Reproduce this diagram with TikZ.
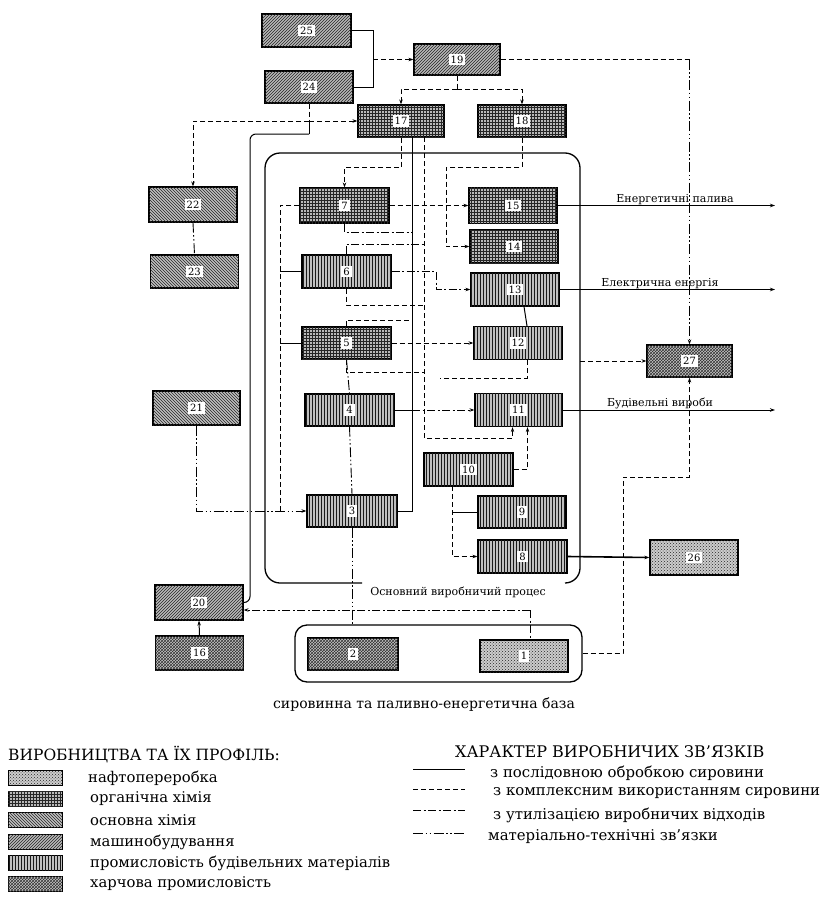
\documentclass[tikz,border=0pt]{standalone}
\usepackage{fontspec}
\setmainfont{DejaVu Serif}
\usetikzlibrary{patterns,arrows.meta,calc}
\begin{document}
\begin{tikzpicture}[x=1pt,y=-1pt,
  box/.style={draw=black, line width=1.2pt, minimum width=88pt, minimum height=33pt, inner sep=0pt},
  me/.style={box, fill=gray!55, postaction={pattern=north east lines, pattern color=black!85}},
  bch/.style={box, fill=gray!50, postaction={pattern=north west lines, pattern color=black!85}},
  org/.style={box, fill=gray!55, postaction={pattern=grid, pattern color=black!85}},
  bld/.style={box, fill=gray!50, postaction={pattern=vertical lines, pattern color=black!90}},
  oil/.style={box, fill=gray!40, postaction={pattern=crosshatch dots, pattern color=black!85}},
  food/.style={box, fill=gray!45, postaction={pattern=crosshatch, pattern color=black!80}},
  num/.style={fill=white, inner sep=2pt, font=\fontsize{10}{10}\selectfont},
  sw/.style={minimum width=54pt, minimum height=15pt, line width=0.9pt},
  seq/.style={line width=1pt},
  cplx/.style={line width=0.9pt, dash pattern=on 5pt off 3pt},
  util/.style={line width=0.9pt, dash pattern=on 8pt off 2.5pt on 2pt off 2.5pt},
  mat/.style={line width=0.9pt, dash pattern=on 10pt off 2.5pt on 1.5pt off 2.5pt on 1.5pt off 2.5pt},
  arr/.style={-{Stealth[length=5pt,width=3.5pt]}},
  lbl/.style={font=\fontsize{11}{13}\selectfont, inner sep=1pt},
  leg/.style={anchor=west, font=\fontsize{14.8}{16}\selectfont, inner sep=0pt},
  legr/.style={anchor=west, font=\fontsize{14.9}{16}\selectfont, inner sep=0pt},
]
\fill[white] (0,0) rectangle (826,902);
\useasboundingbox (0,0) rectangle (826,902);

% ---------- nodes ----------
\node[me, minimum width=89pt, label={[num]center:25}] (n25) at (306.5,30.5) {};
\node[me, minimum height=32pt, label={[num]center:24}] (n24) at (309,87) {};
\node[me, minimum width=86pt, minimum height=31pt, label={[num]center:19}] (n19) at (457,59.5) {};
\node[org, minimum width=86pt, minimum height=32pt, label={[num]center:17}] (n17) at (401,121) {};
\node[org, minimum height=32pt, label={[num]center:18}] (n18) at (522,121) {};
\node[bch, minimum height=35pt, label={[num]center:22}] (n22) at (193,204.5) {};
\node[bch, label={[num]center:23}] (n23) at (194.5,271.5) {};
\node[bch, minimum width=87pt, minimum height=34pt, label={[num]center:21}] (n21) at (196.5,408) {};
\node[me, minimum height=35pt, label={[num]center:20}] (n20) at (199,602.5) {};
\node[food, minimum height=34pt, label={[num]center:16}] (n16) at (199.5,653) {};
\node[org, minimum width=89pt, minimum height=35pt, label={[num]center:7}] (n7) at (344.5,205.5) {};
\node[bld, minimum width=89pt, label={[num]center:6}] (n6) at (346.5,271.5) {};
\node[org, minimum width=89pt, minimum height=32pt, label={[num]center:5}] (n5) at (346.5,343) {};
\node[bld, minimum width=89pt, minimum height=32pt, label={[num]center:4}] (n4) at (349.5,410) {};
\node[bld, minimum width=90pt, minimum height=32pt, label={[num]center:3}] (n3) at (352,511) {};
\node[org, minimum height=36pt, label={[num]center:15}] (n15) at (513,205.5) {};
\node[org, label={[num]center:14}] (n14) at (514,246.5) {};
\node[bld, label={[num]center:13}] (n13) at (515,289.5) {};
\node[bld, label={[num]center:12}] (n12) at (518,343) {};
\node[bld, minimum width=87pt, label={[num]center:11}] (n11) at (518.5,410) {};
\node[bld, minimum width=89pt, label={[num]center:10}] (n10) at (468.5,469.5) {};
\node[bld, minimum height=32pt, label={[num]center:9}] (n9) at (522,512) {};
\node[bld, minimum width=89pt, label={[num]center:8}] (n8) at (522.5,556.5) {};
\node[food, minimum width=85pt, minimum height=32pt, label={[num]center:27}] (n27) at (689.5,361) {};
\node[oil, minimum height=35pt, label={[num]center:26}] (n26) at (694,557.5) {};
\node[draw, line width=1.3pt, rounded corners=12pt, minimum width=287pt, minimum height=57pt] (nb) at (438.5,653.5) {};
\node[food, minimum width=90pt, minimum height=32pt, label={[num]center:2}] (n2) at (353,654) {};
\node[oil, minimum height=32pt, label={[num]center:1}] (n1) at (524,656) {};

% main production box (open at the bottom for its caption)
\draw[line width=1.3pt, rounded corners=15pt] (362,583) -- (265,583) -- (265,153) -- (580,153) -- (580,583) -- (565,583);
\node[lbl] (tmain) at (458,592) {Основний виробничий процес};
\node[font=\fontsize{14}{16}\selectfont] (tbase) at (424,705) {сировинна та паливно-енергетична база};

% ---------- connectors: top ----------
\coordinate (j1) at (373,59.5);
\draw[seq] (n25.east) -| (j1);
\draw[seq] (n24.east) -| (j1);
\draw[cplx,arr] (j1) -- (n19.west);
\coordinate (k19) at (689.5,59.5);
\draw[cplx] (n19.east) -- (k19);
\draw[mat,arr] (k19) -- (n27.north);
\coordinate (j19) at (457,89);
\draw[cplx] (n19.south) -- (j19);
\draw[cplx,arr] (j19) -| (n17.north);
\draw[cplx,arr] (j19) -| (n18.north);
\coordinate (j24) at (309,121);
\draw[cplx] (n24.south) -- (j24);
\draw[cplx,arr] (j24) -- (n17.west);
\draw[cplx,arr] (j24) -| (n22.north);
\coordinate (j24b) at (309,134);
\draw[seq] (j24) -- (j24b);
\draw[seq, rounded corners=6pt] (j24b) -- (250,134) |- (n20.east);

% ---------- left side ----------
\draw[mat] (n22.south) -- (n23.north);
\draw[mat,arr] (n21.south) |- (n3.west);
\coordinate (lbt) at (280,205.5);
\coordinate (lbb) at (280,511);
\draw[cplx] (n7.west) -- (lbt) -- (lbb);
\draw[seq] (n6.west -| lbt) -- (n6.west);
\draw[seq] (n5.west -| lbt) -- (n5.west);
\draw[mat] (n5.south) -- (n4.north);
\draw[mat] (n4.south) -- (n3.north);
\draw[mat] (n3.south) -- (n3.south |- nb.north);
\coordinate (k20) at (530,610);
\draw[util,arr] (k20) -- (n20.east |- k20);
\draw[util] (k20) -- (k20 |- n1.north);
\draw[seq,arr] (n16.north) -- (n20.south);

% ---------- central buses ----------
\coordinate (c4) at (412,410);
\coordinate (ba) at (412,137);
\draw[seq] (ba) -- (c4);
\draw[seq] (n4.east) -- (c4);
\draw[seq] (n3.east) -| (c4);
\draw[util,arr] (c4) -- (n11.west);
\draw[cplx,arr] (n7.east) -- (n15.west);
\draw[cplx,arr] (n5.east) -- (n12.west);
\draw[util,arr] (n6.east) -- (436,271.5) |- (n13.west);
\draw[cplx,arr] (n17.south) -- ++(0,30) -| (n7.north);
\coordinate (bb1) at (424,137);
\coordinate (bb2) at (424,438);
\draw[cplx,arr] (bb1) -- (bb2) -| ([xshift=-6pt]n11.south);
\draw[cplx,arr] (n18.south) |- (446,167) -- (446,246.5) -- (n14.west);
\draw[util] (n7.south) |- (412,232);
\draw[util] (n6.north) |- (424,244);
\draw[cplx] (n6.south) |- (424,305);
\draw[cplx] (n5.north) |- (412,320);
\draw[cplx] (n5.south) |- (424,372);

% ---------- right column ----------
\draw[seq] ([xshift=9pt]n13.south) -- ([xshift=9pt]n12.north);
\draw[cplx] ([xshift=9pt]n12.south) |- (440,378);
\draw[cplx,arr] (n10.east) -| ([xshift=9pt]n11.south);
\coordinate (b10) at (452,486);
\draw[cplx,arr] (b10) |- (n8.west);
\draw[seq] (b10 |- n9.west) -- (n9.west);
\draw[line width=1.6pt, arr] (n8.east) -- (n26.west);
\coordinate (mE) at (580,361);
\draw[cplx,arr] (mE) -- (n27.west);
\coordinate (r1) at (623,653.5);
\coordinate (r2) at (623,477);
\draw[cplx,arr] (nb.east) -- (r1) -- (r2) -| (n27.south);

% outputs
\coordinate (o15) at (775,205.5);
\coordinate (o13) at (775,289.5);
\coordinate (o11) at (775,410);
\draw[seq,arr] (n15.east) -- (o15);
\draw[seq,arr] (n13.east) -- (o13);
\draw[seq,arr] (n11.east) -- (o11);
\node[lbl, anchor=south] (t15) at (675,205.5) {Енергетичні палива};
\node[lbl, anchor=south] (t13) at (660,289.5) {Електрична енергія};
\node[lbl, anchor=south] (t11) at (660,410) {Будівельні вироби};

% ---------- legend: productions ----------
\node[leg, font=\fontsize{15.5}{17}\selectfont] (lt) at (8,755) {ВИРОБНИЦТВА ТА ЇХ ПРОФІЛЬ:};
\node[oil, sw] (s1) at (35,778) {};
\node[org, sw] (s2) at (35,799) {};
\node[bch, sw] (s3) at (35,820) {};
\node[me, sw] (s4) at (35,842) {};
\node[bld, sw] (s5) at (35,863) {};
\node[food, sw] (s6) at (35,884) {};
\node[leg] (st1) at (88,778) {нафтопереробка};
\node[leg] (st2) at (90,799) {органічна хімія};
\node[leg] (st3) at (90,820) {основна хімія};
\node[leg] (st4) at (90,842) {машинобудування};
\node[leg] (st5) at (90,863) {промисловість будівельних матеріалів};
\node[leg] (st6) at (90,884) {харчова промисловість};

% ---------- legend: links ----------
\node[legr, font=\fontsize{16}{17}\selectfont] (rt) at (455,752) {ХАРАКТЕР ВИРОБНИЧИХ ЗВ'ЯЗКІВ};
\coordinate (ls1) at (413,769); \coordinate (le1) at (465,769);
\coordinate (ls2) at (413,789); \coordinate (le2) at (465,789);
\coordinate (ls3) at (413,810); \coordinate (le3) at (465,810);
\coordinate (ls4) at (413,833); \coordinate (le4) at (465,833);
\draw[seq] (ls1) -- (le1);
\draw[cplx] (ls2) -- (le2);
\draw[util] (ls3) -- (le3);
\draw[mat] (ls4) -- (le4);
\node[legr] (rt1) at (490,773) {з послідовною обробкою сировини};
\node[legr] (rt2) at (493,793) {з комплексним використанням сировини};
\node[legr] (rt3) at (493,815) {з утилізацією виробничих відходів};
\node[legr] (rt4) at (488,837) {матеріально-технічні зв'язки};
\end{tikzpicture}
\end{document}
